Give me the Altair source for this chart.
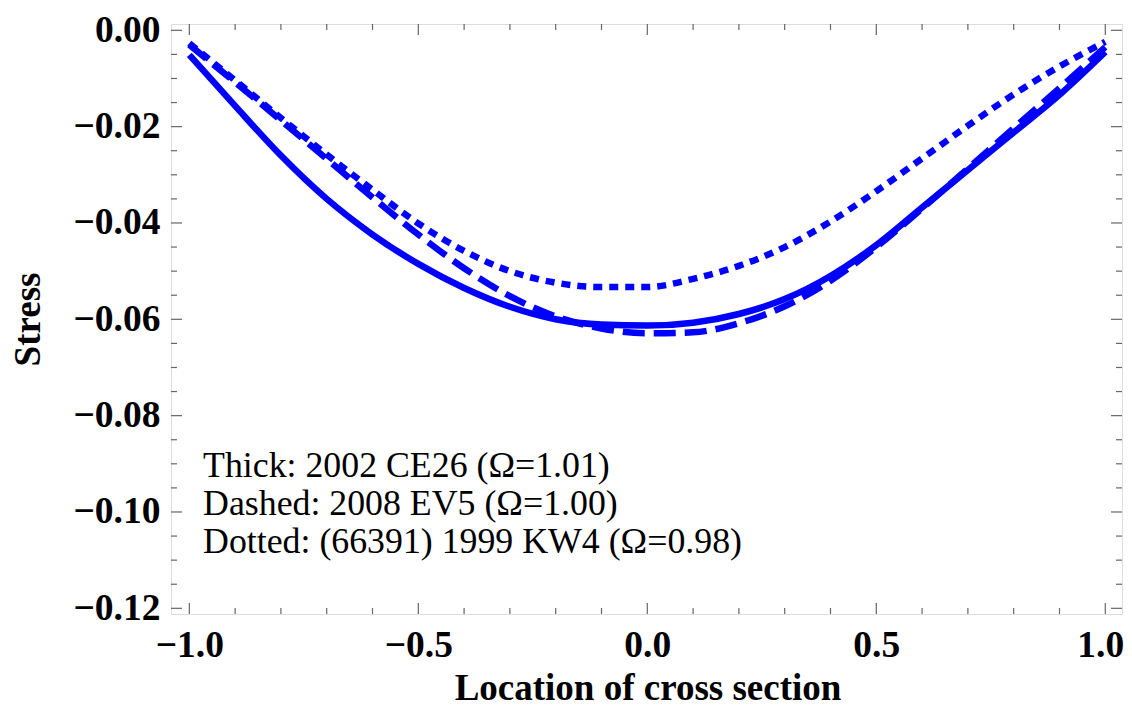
import altair as alt
import pandas as pd

# ---- data ----
xs = [-1.0, -0.9, -0.8, -0.7, -0.6, -0.5, -0.4, -0.3, -0.2, -0.1, 0.0,
      0.1, 0.2, 0.3, 0.4, 0.5, 0.6, 0.7, 0.8, 0.9, 1.0]
thick = [-0.0051, -0.0157, -0.0260, -0.0350, -0.0424, -0.0485, -0.0535, -0.0574,
         -0.0600, -0.0611, -0.0613, -0.0607, -0.0589, -0.0558, -0.0510, -0.0446,
         -0.0368, -0.0290, -0.0212, -0.0134, -0.0045]
dashed = [-0.0030, -0.0108, -0.0187, -0.0267, -0.0347, -0.0424, -0.0494, -0.0552,
          -0.0594, -0.0619, -0.0629, -0.0627, -0.0608, -0.0573, -0.0520, -0.0450,
          -0.0370, -0.0287, -0.0203, -0.0120, -0.0035]
dotted = [-0.0027, -0.0104, -0.0182, -0.0258, -0.0331, -0.0401, -0.0458, -0.0500,
          -0.0524, -0.0533, -0.0533, -0.0516, -0.0489, -0.0450, -0.0397, -0.0334,
          -0.0266, -0.0198, -0.0133, -0.0075, -0.0024]

legend_lines = ["Thick: 2002 CE26 (\u03a9=1.01)",
                "Dashed: 2008 EV5 (\u03a9=1.00)",
                "Dotted: (66391) 1999 KW4 (\u03a9=0.98)"]

x_major = [-1.0, -0.5, 0.0, 0.5, 1.0]
x_minor = [-0.9, -0.8, -0.7, -0.6, -0.4, -0.3, -0.2, -0.1,
           0.1, 0.2, 0.3, 0.4, 0.6, 0.7, 0.8, 0.9]
y_major = [0.0, -0.02, -0.04, -0.06, -0.08, -0.10, -0.12]
y_minor = [-0.005, -0.010, -0.015, -0.025, -0.030, -0.035, -0.045, -0.050, -0.055,
           -0.065, -0.070, -0.075, -0.085, -0.090, -0.095, -0.105, -0.110, -0.115]

# ---- layout ----
W, H = 951, 590
X_DOM = [-1.04, 1.0365]
Y_DOM = [-0.12118, 0.00131]
BLUE = "#0000ff"
FRAME = "#666666"
SERIF = "Liberation Serif"
MAJ, MIN = 11, 6

xs_scale = alt.Scale(domain=X_DOM, nice=False, zero=False)
ys_scale = alt.Scale(domain=Y_DOM, nice=False, zero=False)

X_AXIS = alt.Axis(values=x_major, format=".1f", ticks=False, tickSize=0, domain=False,
                  grid=False, labelFont=SERIF, labelFontWeight="bold", labelFontSize=37.5,
                  labelColor="black", labelPadding=12, labelFlush=False,
                  labelOffset={"condition": {"test": "datum.value >= 1", "value": -5},
                               "value": 0},
                  title="Location of cross section", titleFont=SERIF, titleFontWeight="bold",
                  titleFontSize=37, titleColor="black", titleX=W / 2 + 1, titleY=85,
                  titleBaseline="alphabetic", titleAlign="center")
Y_AXIS = alt.Axis(values=y_major, format=".2f", ticks=False, tickSize=0, domain=False,
                  grid=False, labelFont=SERIF, labelFontWeight="bold", labelFontSize=37.5,
                  labelColor="black", labelPadding=11, labelFlush=False,
                  title="Stress", titleFont=SERIF, titleFontWeight="bold",
                  titleFontSize=37, titleColor="black", titleAngle=270,
                  titleX=-143, titleY=H / 2, titleAlign="center", titleBaseline="middle")


def X(field):
    return alt.X(field, scale=xs_scale, axis=X_AXIS)


def Y(field):
    return alt.Y(field, scale=ys_scale, axis=Y_AXIS)


curves = pd.DataFrame({"x": xs, "thick": thick, "dashed": dashed, "dotted": dotted})
base = alt.Chart(curves)


def curve(field, dash=None):
    kw = dict(color=BLUE, strokeWidth=6.5, strokeCap="butt", interpolate="monotone",
              clip=True)
    if dash:
        kw["strokeDash"] = dash
    return base.mark_line(**kw).encode(x=X("x:Q"), y=Y(f"{field}:Q"))


line_thick = curve("thick")
line_dashed = curve("dashed", dash=[22, 9])
line_dotted = curve("dotted", dash=[9, 7])


# frame ticks (inward, on all four sides)
def xticks(values, length):
    d = alt.Chart(pd.DataFrame({"v": values}))
    bottom = d.mark_rule(color=FRAME, strokeWidth=1.2).encode(
        x=X("v:Q"), y=alt.value(H), y2=alt.value(H - length))
    top = d.mark_rule(color=FRAME, strokeWidth=1.2).encode(
        x=X("v:Q"), y=alt.value(0), y2=alt.value(length))
    return bottom + top


def yticks(values, length):
    d = alt.Chart(pd.DataFrame({"v": values}))
    left = d.mark_rule(color=FRAME, strokeWidth=1.2).encode(
        y=Y("v:Q"), x=alt.value(0), x2=alt.value(length))
    right = d.mark_rule(color=FRAME, strokeWidth=1.2).encode(
        y=Y("v:Q"), x=alt.value(W), x2=alt.value(W - length))
    return left + right


ticks = xticks(x_major, MAJ) + xticks(x_minor, MIN) + yticks(y_major, MAJ) + yticks(y_minor, MIN)

# annotation text
legend_df = pd.DataFrame({
    "label": legend_lines,
    "lx": [-0.970] * 3,
    "ly": [-0.0927 - 0.0079 * i for i in range(3)],
})
legend = alt.Chart(legend_df).mark_text(
    align="left", baseline="alphabetic", font=SERIF, fontSize=35.8, color="black"
).encode(x=X("lx:Q"), y=Y("ly:Q"), text="label:N")

chart = alt.layer(line_thick, line_dashed, line_dotted, ticks, legend).properties(
    width=W, height=H,
    autosize=alt.AutoSizeParams(type="none"),
    padding={"left": 163, "top": 16, "right": 2, "bottom": 93},
).configure_view(stroke=FRAME, strokeWidth=1.3).configure(background="white")

chart.save("out.html", embed_options={"renderer": "svg", "actions": False})
